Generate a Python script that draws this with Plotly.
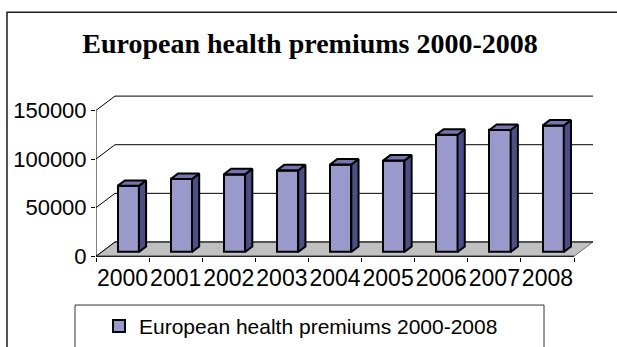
import plotly.graph_objects as go

# ---- data -------------------------------------------------------------
years = ['2000', '2001', '2002', '2003', '2004', '2005', '2006', '2007', '2008']
premiums = [68000, 75000, 80000, 84000, 90000, 94000, 120500, 125500, 130000]
value_ticks = [0, 50000, 100000, 150000]
value_tick_text = ['0', '50000', '100000', '150000']
series_name = 'European health premiums 2000-2008'
chart_title = 'European health premiums 2000-2008'

# ---- geometry of the oblique 3-D box (pixels) --------------------------
W, H = 617, 347
X0_PX = 96                 # left edge of the front plane
CAT_PX = 478 / 9           # width of one category on the front plane
Y0_PX, YTOP_PX = 260, 112  # rows of 0 and of the top tick on the front plane
K = (Y0_PX - YTOP_PX) / value_ticks[-1]   # pixels per value unit
DEPTH_X_PX, DEPTH_Y_PX = 19, 14.5         # shift from front plane to back wall

DX = DEPTH_X_PX / CAT_PX   # depth shift in x units
DY = DEPTH_Y_PX / K        # depth shift in value units

DOM_L, DOM_R, DOM_T, DOM_B = 96, 608, 92, 261
x_range = [(DOM_L - X0_PX) / CAT_PX, (DOM_R - X0_PX) / CAT_PX]
y_range = [(Y0_PX - DOM_B) / K, (Y0_PX - DOM_T) / K]

N = len(years)
BAR_W = 0.4                # column width as a share of the category
D_FRONT, D_BACK = 0.30, 0.68   # depth span of each column

FRONT_COL = '#9999CC'
SIDE_COL = '#4E4E86'
TOP_COL = '#7474B0'
FLOOR_COL = '#C0C0C0'

fig = go.Figure()

# front faces of the columns
bar_x = [i + 0.5 + D_FRONT * DX for i in range(N)]
fig.add_trace(go.Bar(
    x=bar_x, y=premiums, base=[D_FRONT * DY] * N, width=BAR_W,
    name=series_name,
    marker=dict(color=FRONT_COL, line=dict(color='black', width=2)),
    showlegend=True, hoverinfo='skip',
))

# side and top faces, built from the same values
ddx = (D_BACK - D_FRONT) * DX
ddy = (D_BACK - D_FRONT) * DY
side_x, side_y, top_x, top_y = [], [], [], []
for i, v in enumerate(premiums):
    xl = bar_x[i] - BAR_W / 2
    xr = bar_x[i] + BAR_W / 2
    b = D_FRONT * DY
    t = b + v
    side_x += [xr, xr + ddx, xr + ddx, xr, xr, None]
    side_y += [b, b + ddy, t + ddy, t, b, None]
    top_x += [xl, xr, xr + ddx, xl + ddx, xl, None]
    top_y += [t, t, t + ddy, t + ddy, t, None]

fig.add_trace(go.Scatter(
    x=side_x, y=side_y, mode='lines', fill='toself', fillcolor=SIDE_COL,
    line=dict(color='black', width=2), showlegend=False, hoverinfo='skip',
))
fig.add_trace(go.Scatter(
    x=top_x, y=top_y, mode='lines', fill='toself', fillcolor=TOP_COL,
    line=dict(color='black', width=2), showlegend=False, hoverinfo='skip',
))

# front category axis line (on the overlaid tick axis)
fig.add_trace(go.Scatter(
    x=[0, N], y=[0, 0], xaxis='x2', yaxis='y', mode='lines',
    line=dict(color='black', width=1), showlegend=False, hoverinfo='skip',
))

shapes = []
# floor
shapes.append(dict(
    type='path', xref='x', yref='y', layer='below',
    path=f'M0,0 L{N},0 L{N + DX},{DY} L{DX},{DY} Z',
    fillcolor=FLOOR_COL, line=dict(color='#707070', width=1),
))
# gridlines on the side and back walls
for v in value_ticks:
    shapes.append(dict(type='line', xref='x', yref='y', layer='below',
                       x0=0, y0=v, x1=DX, y1=v + DY,
                       line=dict(color='black', width=1)))
    shapes.append(dict(type='line', xref='x', yref='y', layer='below',
                       x0=DX, y0=v + DY, x1=N + DX, y1=v + DY,
                       line=dict(color='black', width=1)))
# front value axis line
shapes.append(dict(type='line', xref='x', yref='y', layer='above',
                   x0=0, y0=0, x1=0, y1=value_ticks[-1],
                   line=dict(color='black', width=1)))
# chart frame
shapes.append(dict(type='rect', xref='paper', yref='paper',
                   x0=7 / W, x1=1.05, y0=-0.1, y1=1 - 12.5 / H,
                   line=dict(color='#1a1a1a', width=1.5)))
# legend frame
shapes.append(dict(type='rect', xref='paper', yref='paper',
                   x0=75 / W, x1=544 / W, y0=-0.1, y1=1 - 309.5 / H,
                   line=dict(color='#333333', width=1)))

y_font = dict(family='Liberation Sans, Arial', size=22, color='black')
x_font = dict(family='Liberation Sans, Arial', size=23, color='black')

fig.update_layout(
    width=W, height=H, autosize=False,
    margin=dict(l=0, r=0, t=0, b=0, pad=0),
    paper_bgcolor='white', plot_bgcolor='rgba(0,0,0,0)',
    template='none',
    title=dict(text=f'<b>{chart_title}</b>', x=310 / W, xanchor='center',
               y=1 - 43 / H, yanchor='middle', xref='container', yref='container',
               font=dict(family='Liberation Serif, Times New Roman', size=28, color='black')),
    xaxis=dict(domain=[DOM_L / W, DOM_R / W], range=x_range,
               tickvals=[i + 0.5 for i in range(N)], ticktext=years,
               tickangle=0, ticklabelstandoff=5,
               ticks='', showgrid=False, zeroline=False, showline=False,
               tickfont=x_font, automargin=False, fixedrange=True),
    xaxis2=dict(overlaying='x', anchor='y', side='bottom', range=x_range,
                tickvals=list(range(N + 1)), ticks='outside', ticklen=4,
                tickcolor='black', tickwidth=1, showticklabels=False,
                showgrid=False, zeroline=False, showline=False,
                automargin=False, fixedrange=True),
    yaxis=dict(domain=[1 - DOM_B / H, 1 - DOM_T / H], range=y_range,
               tickvals=value_ticks, ticktext=value_tick_text,
               ticks='outside', ticklen=4, tickcolor='black', tickwidth=1,
               showgrid=False, zeroline=False, showline=False,
               tickfont=y_font, automargin=False, fixedrange=True),
    shapes=shapes,
    showlegend=True,
    legend=dict(x=99 / W, xanchor='left', y=1 - 331 / H, yanchor='middle',
                orientation='h', bgcolor='rgba(0,0,0,0)', borderwidth=0,
                font=dict(family='Liberation Sans, Arial', size=21, color='black')),
    bargap=0,
)

fig.write_html('out.html')
